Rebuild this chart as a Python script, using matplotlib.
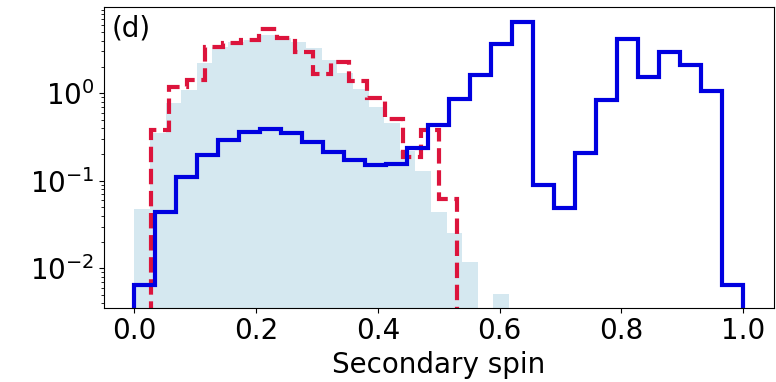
import numpy as np
import matplotlib
matplotlib.use("Agg")
import matplotlib.pyplot as plt

# bin heights (probability density, log scale)
blue_vals = [0.0064, 0.044, 0.111, 0.197, 0.293, 0.358, 0.388, 0.349, 0.280, 0.215,
             0.173, 0.152, 0.156, 0.235, 0.434, 0.86, 1.62, 3.63, 6.58, 0.0896,
             0.0485, 0.21, 0.838, 4.14, 1.55, 2.99, 2.11, 1.07, 0.0064]
blue_edges = np.linspace(0.0, 1.0, 30)

red_vals = [0.38, 1.17, 1.42, 3.41, 3.79, 4.06, 5.39, 4.32, 2.99, 1.66,
            2.30, 1.39, 0.877, 0.508, 0.189, 0.38, 0.062]
red_edges = np.linspace(0.028, 0.530, 18)

fill_vals = [0.0476, 0.35, 0.77, 1.09, 2.24, 3.35, 3.8, 4.1, 4.64, 4.3,
             3.8, 3.27, 2.4, 1.7, 1.12, 0.69, 0.46, 0.22, 0.13, 0.044,
             0.0255, 0.0119, 0.0, 0.0051]
fill_edges = np.arange(25) / 39.0

fig = plt.figure(figsize=(7.76, 3.82), dpi=100)
ax = fig.add_axes([0.134, 0.1945, 0.863, 0.7865])

ax.stairs(fill_vals, fill_edges, fill=True, color='#d5e8f0', baseline=0)
ax.stairs(red_vals, red_edges, color='crimson', ls='--', lw=3, baseline=0)
ax.stairs(blue_vals, blue_edges, color='#0000e0', lw=3, baseline=0)

ax.set_yscale('log')
ax.set_xlim(-0.05, 1.05)
ax.set_ylim(0.00355, 9.6)
ax.set_xticks([0.0, 0.2, 0.4, 0.6, 0.8, 1.0])
ax.tick_params(labelsize=20)
ax.set_xlabel('Secondary spin', fontsize=20)
ax.text(0.012, 0.975, '(d)', transform=ax.transAxes, va='top', ha='left', fontsize=20)

fig.savefig('out.png', dpi=100)
